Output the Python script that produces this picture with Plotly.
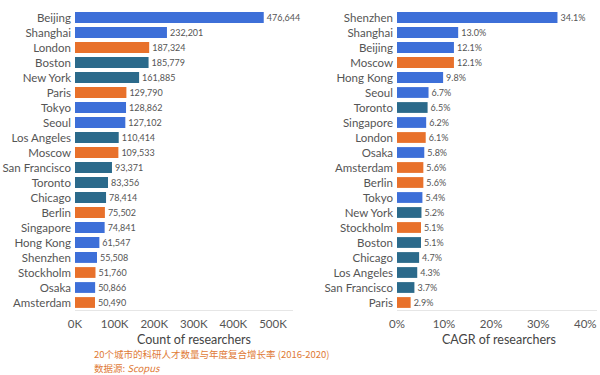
import plotly.graph_objects as go

BLUE = "#3d6fd8"
TEAL = "#2b6a8b"
ORANGE = "#e8712b"

city_group = {
    "Beijing": BLUE, "Shanghai": BLUE, "Tokyo": BLUE, "Seoul": BLUE, "Singapore": BLUE,
    "Hong Kong": BLUE, "Shenzhen": BLUE, "Osaka": BLUE,
    "Boston": TEAL, "New York": TEAL, "Los Angeles": TEAL, "San Francisco": TEAL,
    "Toronto": TEAL, "Chicago": TEAL,
    "London": ORANGE, "Paris": ORANGE, "Moscow": ORANGE, "Berlin": ORANGE,
    "Stockholm": ORANGE, "Amsterdam": ORANGE,
}

count_cities = ["Beijing", "Shanghai", "London", "Boston", "New York", "Paris", "Tokyo",
                "Seoul", "Los Angeles", "Moscow", "San Francisco", "Toronto", "Chicago",
                "Berlin", "Singapore", "Hong Kong", "Shenzhen", "Stockholm", "Osaka", "Amsterdam"]
count_values = [476644, 232201, 187324, 185779, 161885, 129790, 128862, 127102, 110414, 109533,
                93371, 83356, 78414, 75502, 74841, 61547, 55508, 51760, 50866, 50490]

cagr_cities = ["Shenzhen", "Shanghai", "Beijing", "Moscow", "Hong Kong", "Seoul", "Toronto",
               "Singapore", "London", "Osaka", "Amsterdam", "Berlin", "Tokyo", "New York",
               "Stockholm", "Boston", "Chicago", "Los Angeles", "San Francisco", "Paris"]
cagr_values = [34.1, 13.0, 12.1, 12.1, 9.8, 6.7, 6.5, 6.2, 6.1, 5.8, 5.6, 5.6, 5.4, 5.2,
               5.1, 5.1, 4.7, 4.3, 3.7, 2.9]

count_tickvals = [0, 100000, 200000, 300000, 400000, 500000]
count_ticktext = ["0K", "100K", "200K", "300K", "400K", "500K"]
cagr_tickvals = [0, 10, 20, 30, 40]
cagr_ticktext = ["0%", "10%", "20%", "30%", "40%"]

TXT = "#555555"
FONT = "Lato"

fig = go.Figure()
fig.add_trace(go.Bar(
    x=count_values, y=count_cities, orientation="h",
    marker=dict(color=[city_group[c] for c in count_cities], line=dict(width=0)),
    text=[f"{v:,}" for v in count_values], textposition="outside",
    textfont=dict(size=12.5, color=TXT, family=FONT), cliponaxis=False,
    width=0.72, xaxis="x", yaxis="y", showlegend=False,
))
fig.add_trace(go.Bar(
    x=cagr_values, y=cagr_cities, orientation="h",
    marker=dict(color=[city_group[c] for c in cagr_cities], line=dict(width=0)),
    text=[f"{v:.1f}%" for v in cagr_values], textposition="outside",
    textfont=dict(size=12.5, color=TXT, family=FONT), cliponaxis=False,
    width=0.72, xaxis="x2", yaxis="y2", showlegend=False,
))

axis_common = dict(showgrid=False, zeroline=False, showline=True, linecolor="#e6e6e6",
                   linewidth=1, ticks="", ticklabelstandoff=3,
                   tickfont=dict(size=11.5, color=TXT, family=FONT))

fig.update_layout(
    width=600, height=375,
    margin=dict(l=0, r=0, t=10, b=65),
    paper_bgcolor="white", plot_bgcolor="white",
    font=dict(family=FONT, color=TXT),
    xaxis=dict(domain=[0.125, 0.488], range=[0, 550000], tickvals=count_tickvals,
               ticktext=count_ticktext, anchor="y", automargin=False, **axis_common),
    yaxis=dict(categoryorder="array", categoryarray=count_cities, autorange="reversed",
               showgrid=False, zeroline=False, showline=False, ticks="", anchor="x",
               ticklabelstandoff=3, automargin=False,
               tickfont=dict(size=11.5, color=TXT, family=FONT)),
    xaxis2=dict(domain=[397/600, 0.995], range=[0, 42.5], tickvals=cagr_tickvals,
                ticktext=cagr_ticktext, anchor="y2", automargin=False, **axis_common),
    yaxis2=dict(categoryorder="array", categoryarray=cagr_cities, autorange="reversed",
                showgrid=False, zeroline=False, showline=False, ticks="", anchor="x2",
                ticklabelstandoff=3, automargin=False,
                tickfont=dict(size=11.5, color=TXT, family=FONT)),
    annotations=[
        dict(text="Count of researchers", xref="paper", yref="paper", x=194/600, y=1 - (339-10)/300,
             showarrow=False, font=dict(size=12.5, color="#444444", family=FONT),
             xanchor="center", yanchor="middle"),
        dict(text="CAGR of researchers", xref="paper", yref="paper", x=499/600, y=1 - (339-10)/300,
             showarrow=False, font=dict(size=12.5, color="#444444", family=FONT),
             xanchor="center", yanchor="middle"),
        dict(text="20个城市的科研人才数量与年度复合增长率 (2016-2020)",
             xref="paper", yref="paper", align="left",
             x=92/600, y=1 - (354-10)/300, showarrow=False, xanchor="left", yanchor="middle",
             font=dict(size=9.5, color="#e07a36", family="Noto Sans CJK SC")),
        dict(text="数据源: <i>Scopus</i>",
             xref="paper", yref="paper", align="left",
             x=92/600, y=1 - (367.5-10)/300, showarrow=False, xanchor="left", yanchor="middle",
             font=dict(size=9.5, color="#e07a36", family="Noto Sans CJK SC")),
    ],
)

fig.write_html("out.html", config={"displayModeBar": False},
               post_script="document.body.style.margin='0';document.body.style.overflow='hidden';")
